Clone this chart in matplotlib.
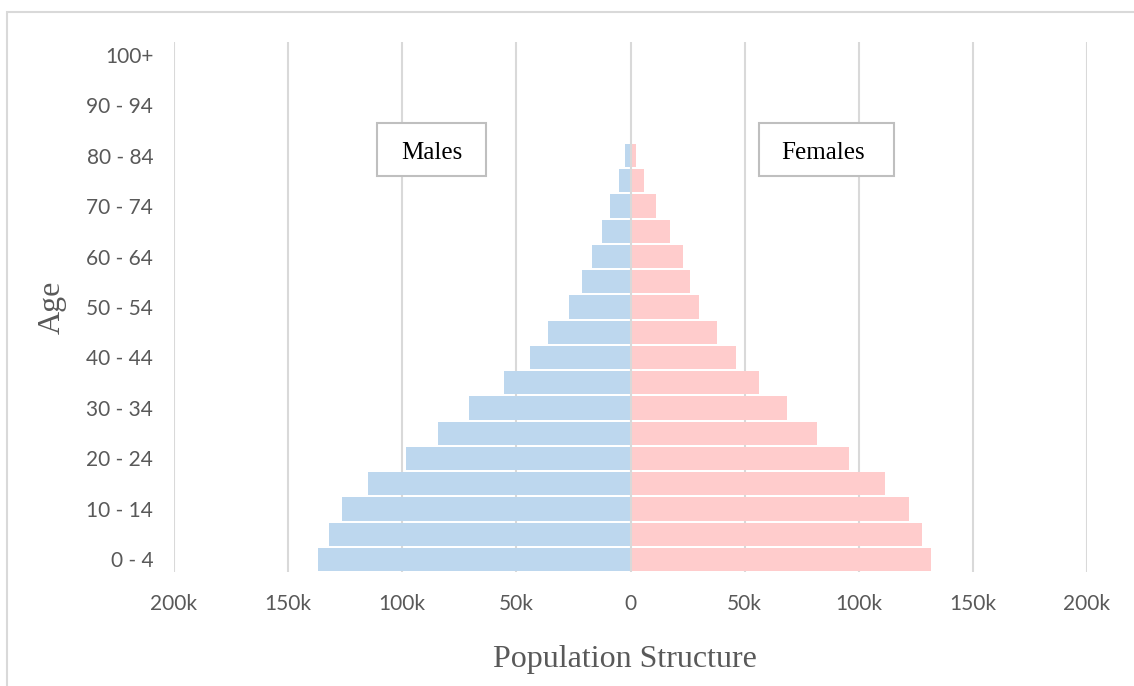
import matplotlib.pyplot as plt
from matplotlib.patches import Rectangle
from matplotlib.ticker import FuncFormatter

# Age groups from youngest to oldest
age_groups = ["0 - 4", "5 - 9", "10 - 14", "15 - 19", "20 - 24", "25 - 29",
              "30 - 34", "35 - 39", "40 - 44", "45 - 49", "50 - 54", "55 - 59",
              "60 - 64", "65 - 69", "70 - 74", "75 - 79", "80 - 84", "85 - 89",
              "90 - 94", "95 - 99", "100+"]

# Population counts per age group (thousands)
males = [136.7, 132.3, 126.2, 114.8, 98.4, 84.5, 70.6, 55.3, 43.9, 36.0,
         26.8, 21.2, 16.8, 12.7, 8.8, 5.1, 2.2, 0, 0, 0, 0]
females = [131.6, 127.6, 122.2, 111.7, 95.9, 81.6, 68.4, 56.4, 46.3, 38.0,
           29.8, 26.2, 22.8, 17.4, 11.3, 6.1, 2.2, 0, 0, 0, 0]

x_ticks = [-200, -150, -100, -50, 0, 50, 100, 150, 200]

male_color = "#BDD7EE"
female_color = "#FFCCCC"
grid_color = "#D9D9D9"
text_color = "#595959"

W, H = 1134, 686
fig = plt.figure(figsize=(W / 100, H / 100), dpi=100)
ax = fig.add_axes([174 / W, 1 - 572 / H, (1087 - 174) / W, (572 - 42) / H])

y = list(range(len(age_groups)))
ax.barh(y, [-m for m in males], height=0.92, color=male_color, zorder=2)
ax.barh(y, females, height=0.92, color=female_color, zorder=2)

ax.set_xlim(-200, 200)
ax.set_ylim(-0.5, len(age_groups) - 0.5)
ax.set_xticks(x_ticks)
ax.xaxis.set_major_formatter(FuncFormatter(lambda v, p: "0" if v == 0 else f"{abs(int(v))}k"))
ax.set_yticks(y[::2])
ax.set_yticklabels(age_groups[::2])

for v in x_ticks:
    if v != 0:
        ax.axvline(v, color=grid_color, lw=1.5, zorder=1)
ax.axvline(0, color=grid_color, lw=1.5, zorder=3)

for s in ax.spines.values():
    s.set_visible(False)
ax.tick_params(axis="y", length=0, labelsize=15, labelcolor=text_color, pad=15)
ax.tick_params(axis="x", length=0, labelsize=15, labelcolor=text_color, pad=16)
for lbl in ax.get_xticklabels() + ax.get_yticklabels():
    lbl.set_fontfamily("Lato")

ax.set_xlabel("Population Structure", family="Liberation Serif", fontsize=23,
              color=text_color, labelpad=22)
ax.xaxis.label.set_x(0.494)
ax.set_ylabel("Age", family="Liberation Serif", fontsize=23, color=text_color,
              labelpad=14)

# Series name boxes
for x0, x1, cx, name in [(-111, -63.2, -87, "Males"), (56.1, 115.4, 84.2, "Females")]:
    ax.add_patch(Rectangle((x0, 15.2), x1 - x0, 2.1, fc="white", ec="#BFBFBF",
                           lw=1.5, zorder=4))
    ax.text(cx, 16.1, name, family="Liberation Serif", fontsize=18,
            ha="center", va="center", zorder=5)

# Chart area border
fig.patches.append(Rectangle((7 / W, -0.1), 1.2, 1 - 12 / H + 0.1,
                             transform=fig.transFigure, fill=False,
                             ec=grid_color, lw=1.5))

fig.savefig("out.png", dpi=100)
